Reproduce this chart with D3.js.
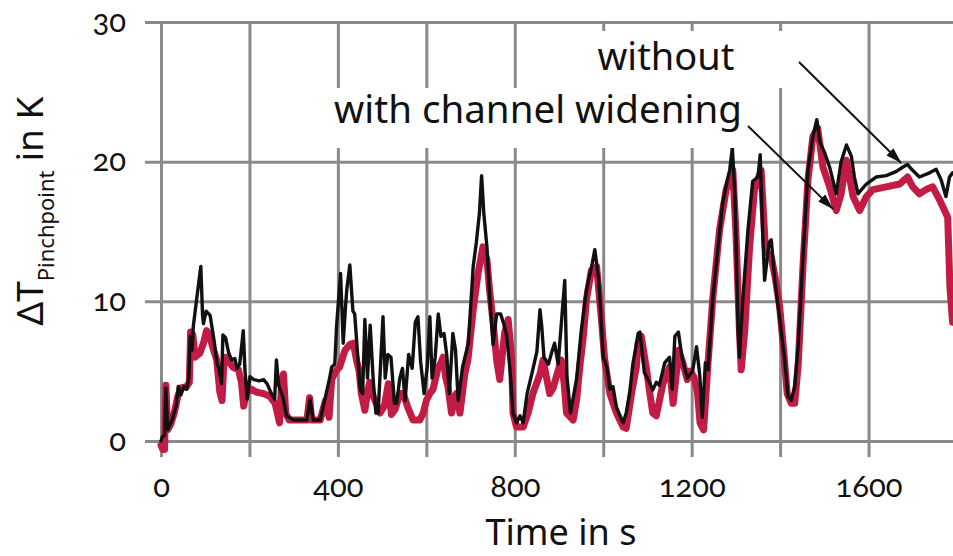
<!DOCTYPE html>
<html><head><meta charset="utf-8">
<script src="https://cdn.jsdelivr.net/npm/d3@7"></script>
<style>
body{margin:0;background:#fff}
text{font-family:"Noto Sans","Open Sans",sans-serif;fill:#111}
</style>
</head><body>
<svg id="chart" width="953" height="556"></svg>
<script>
// ---- data ----
const xTickLabels = [0, 400, 800, 1200, 1600];
const xGridValues = [0, 200, 400, 600, 800, 1000, 1200, 1400, 1600, 1800];
const yTickLabels = [0, 10, 20, 30];
const seriesNames = ["with channel widening", "without"];

const withWidening = [[0,-0.3],[4,-0.6],[8,-0.6],[11,4.0],[15,0.8],[22,1.2],[30,2.0],[38,3.2],[45,3.8],[58,3.9],[64,4.2],[67,7.8],[72,7.6],[77,6.0],[88,6.3],[96,7.0],[103,7.9],[110,7.6],[116,6.8],[126,5.8],[133,3.5],[138,2.9],[142,5.5],[146,6.0],[155,5.6],[162,5.3],[175,5.1],[182,4.2],[187,2.5],[194,3.6],[205,3.7],[216,3.5],[231,3.4],[246,3.2],[258,2.7],[268,1.3],[273,4.3],[277,4.8],[282,2.0],[290,1.5],[310,1.5],[330,1.5],[336,3.1],[341,1.5],[360,1.5],[372,2.9],[380,1.7],[386,4.4],[395,5.0],[404,5.3],[416,6.5],[427,6.9],[435,7.0],[442,5.8],[448,5.0],[453,3.4],[461,2.2],[467,3.5],[472,4.2],[480,3.2],[488,2.6],[495,2.0],[505,2.5],[514,4.1],[521,1.9],[530,2.3],[540,3.4],[548,3.4],[558,2.4],[570,1.5],[585,1.5],[593,2.0],[600,2.9],[608,3.4],[615,3.7],[627,5.3],[633,5.6],[638,6.0],[644,4.5],[649,3.9],[657,2.0],[663,3.0],[668,3.4],[676,2.0],[687,4.8],[694,5.8],[706,9.4],[717,12.0],[728,13.9],[737,13.0],[743,10.8],[751,8.5],[759,5.8],[766,4.4],[777,7.7],[785,8.7],[790,7.0],[793,5.8],[796,2.0],[804,1.0],[819,1.0],[830,2.0],[841,3.4],[857,4.8],[864,5.8],[872,4.5],[879,3.4],[887,3.8],[894,4.6],[905,5.8],[912,4.0],[917,2.0],[932,1.5],[940,3.0],[947,5.3],[955,7.5],[962,10.1],[973,12.2],[985,12.5],[996,8.7],[1003,5.9],[1015,3.4],[1030,2.0],[1045,1.0],[1052,0.9],[1064,3.4],[1075,5.3],[1079,7.0],[1086,7.5],[1098,5.1],[1105,3.5],[1112,2.0],[1120,1.8],[1135,4.1],[1150,5.3],[1158,2.7],[1166,5.0],[1171,6.5],[1180,5.6],[1190,4.4],[1197,5.0],[1205,4.6],[1213,3.5],[1219,1.3],[1227,0.8],[1237,5.6],[1248,10.3],[1263,15.1],[1278,18.0],[1293,19.4],[1300,15.0],[1308,7.9],[1312,5.1],[1320,7.9],[1331,13.9],[1342,18.0],[1357,19.4],[1367,13.6],[1380,13.2],[1390,11.5],[1399,9.6],[1408,6.5],[1416,3.4],[1425,2.7],[1433,2.7],[1441,5.5],[1452,12.7],[1463,18.7],[1474,21.8],[1485,22.4],[1497,19.6],[1512,18.2],[1527,16.5],[1538,17.7],[1550,20.1],[1565,17.5],[1580,16.5],[1595,17.5],[1610,18.0],[1640,18.2],[1670,18.4],[1688,18.9],[1700,18.2],[1715,17.7],[1730,18.0],[1745,18.2],[1760,17.3],[1772,16.5],[1779,16.0],[1784,11.0],[1790,8.5]];

const withoutWidening = [[0,0.0],[3,0.3],[8,0.4],[11,3.8],[15,0.8],[25,1.5],[35,2.6],[39,3.9],[45,3.3],[52,3.9],[58,3.7],[63,4.5],[66,7.5],[70,6.5],[73,8.2],[80,10.0],[90,12.5],[94,9.0],[96,8.4],[102,9.3],[111,9.0],[120,7.2],[127,5.5],[131,5.2],[137,4.1],[140,7.6],[146,7.4],[153,6.3],[160,5.8],[167,5.9],[172,5.2],[178,5.5],[186,7.9],[190,5.0],[195,3.0],[201,4.6],[210,4.4],[222,4.3],[232,4.4],[240,4.1],[248,3.5],[257,3.0],[261,5.8],[266,4.0],[276,3.1],[284,1.8],[300,1.5],[330,1.5],[337,3.0],[344,1.5],[360,1.5],[370,2.9],[380,4.3],[386,5.3],[393,5.5],[397,8.2],[406,12.0],[412,7.0],[417,9.5],[420,10.8],[427,12.6],[434,9.3],[438,9.1],[445,6.0],[451,3.6],[456,3.4],[461,8.7],[467,4.5],[473,8.3],[480,4.3],[486,2.0],[491,2.0],[502,8.9],[507,4.5],[513,6.2],[520,6.0],[528,2.7],[533,2.7],[540,4.5],[546,5.2],[552,2.9],[560,6.2],[568,5.2],[575,8.5],[581,8.9],[587,5.7],[595,3.4],[602,5.3],[608,8.9],[613,4.5],[620,6.0],[627,9.1],[633,7.5],[640,7.7],[646,6.2],[652,3.4],[660,7.7],[666,6.5],[672,2.9],[682,5.3],[695,7.0],[706,12.5],[713,14.2],[720,16.3],[725,19.0],[730,16.3],[737,13.9],[743,10.5],[751,6.9],[759,9.1],[768,9.1],[775,8.4],[782,7.5],[790,4.8],[796,2.0],[804,1.3],[812,1.8],[819,1.3],[828,3.4],[840,5.0],[850,6.4],[857,9.4],[861,8.2],[866,6.0],[876,5.5],[884,6.4],[890,7.0],[898,5.5],[913,11.5],[918,4.6],[926,2.0],[940,4.5],[950,7.8],[962,10.8],[975,12.7],[981,13.7],[990,11.5],[1000,6.0],[1008,5.3],[1015,3.7],[1022,3.9],[1030,2.4],[1045,1.3],[1052,2.0],[1060,3.5],[1067,5.5],[1079,7.7],[1083,7.8],[1093,4.9],[1100,4.5],[1112,3.65],[1120,4.2],[1127,4.0],[1139,5.6],[1150,6.0],[1156,3.7],[1162,7.5],[1170,7.8],[1178,6.0],[1190,4.5],[1202,5.0],[1211,6.75],[1218,4.8],[1224,1.7],[1231,5.6],[1237,5.1],[1248,10.3],[1259,13.7],[1270,17.0],[1280,18.6],[1286,19.4],[1292,21.0],[1298,17.5],[1305,8.0],[1308,6.0],[1316,10.3],[1327,15.0],[1338,18.6],[1350,18.9],[1355,20.5],[1361,14.5],[1365,11.5],[1375,14.2],[1380,14.4],[1388,11.5],[1399,8.8],[1410,5.9],[1418,3.2],[1425,2.9],[1433,3.9],[1441,6.9],[1452,13.3],[1463,19.4],[1474,21.8],[1483,23.0],[1490,21.4],[1500,20.7],[1512,19.6],[1527,17.7],[1538,20.0],[1550,21.2],[1561,20.4],[1568,18.9],[1576,17.7],[1595,18.4],[1617,18.9],[1640,19.0],[1663,19.3],[1677,19.6],[1688,19.8],[1699,19.4],[1715,18.9],[1738,19.2],[1753,19.45],[1764,18.7],[1775,17.5],[1783,18.9],[1790,19.2]];

// annotation targets in data units (time, value)
const annotTargets = [[1520, 16.6], [1674, 19.9]];

// ---- drawing ----
const svg = d3.select("#chart");
const x = d3.scaleLinear().domain([0, 1800]).range([161, 957]);
const y = d3.scaleLinear().domain([0, 30]).range([441, 22]);
const gridColor = "#8a8a8a";
const red = "#c21c44";
const tickFont = 'Lato,"Noto Sans",sans-serif';

// horizontal grid + y labels
const gy = svg.append("g").attr("transform", "translate(145,0)")
  .call(d3.axisLeft(y).tickValues(yTickLabels).tickSize(-(957 - 145)).tickPadding(19).tickFormat(d3.format("d")));
gy.select(".domain").remove();
gy.selectAll(".tick line").attr("stroke", gridColor).attr("stroke-width", 3);
gy.selectAll(".tick text").attr("font-size", 31).attr("dy", "0.3em").attr("fill", "#111")
  .style("font-family", tickFont).style("font-variant-numeric", "oldstyle-nums");

// vertical grid + x labels
const gx = svg.append("g").attr("transform", "translate(0,457)")
  .call(d3.axisBottom(x).tickValues(xGridValues).tickSize(-(457 - 22))
    .tickFormat(d => xTickLabels.includes(d) ? d3.format("d")(d) : ""));
gx.select(".domain").remove();
gx.selectAll(".tick line").attr("stroke", gridColor).attr("stroke-width", 3);
gx.selectAll(".tick text").attr("font-size", 31).attr("dy", null).attr("y", 40).attr("fill", "#111")
  .style("font-family", tickFont).style("font-variant-numeric", "oldstyle-nums");

// lines
const line = d3.line().x(d => x(d[0])).y(d => y(d[1])).curve(d3.curveLinear);
svg.append("path").datum(withWidening).attr("d", line)
  .attr("fill", "none").attr("stroke", red).attr("stroke-width", 7)
  .attr("stroke-linejoin", "round").attr("stroke-linecap", "round");
svg.append("path").datum(withoutWidening).attr("d", line)
  .attr("fill", "none").attr("stroke", "#111").attr("stroke-width", 3.4)
  .attr("stroke-linejoin", "round").attr("stroke-linecap", "round");

// helper to fit a text to a target width
function fit(sel, target) {
  const w = sel.node().getComputedTextLength();
  const fs = parseFloat(sel.attr("font-size"));
  sel.attr("font-size", fs * target / w);
}

// annotation boxes
svg.append("rect").attr("x", 566).attr("y", 31).attr("width", 232).attr("height", 57).attr("fill", "#fff");
svg.append("rect").attr("x", 332).attr("y", 88).attr("width", 416).attr("height", 60).attr("fill", "#fff");

const t1 = svg.append("text").attr("x", 666).attr("y", 70).attr("text-anchor", "middle")
  .attr("font-size", 38).text(seriesNames[1]);
fit(t1, 137);
const t2 = svg.append("text").attr("x", 538).attr("y", 123).attr("text-anchor", "middle")
  .attr("font-size", 38).text(seriesNames[0]);
fit(t2, 408);

// arrows
const defs = svg.append("defs");
defs.append("marker").attr("id", "ah").attr("viewBox", "0 0 16 10").attr("refX", 16).attr("refY", 5)
  .attr("markerWidth", 16).attr("markerHeight", 10).attr("markerUnits", "userSpaceOnUse")
  .attr("orient", "auto")
  .append("path").attr("d", "M0,0 L16,5 L0,10 Z").attr("fill", "#111");
const arrowStarts = [[748, 126], [799, 62]];
arrowStarts.forEach((s, i) => {
  svg.append("line").attr("x1", s[0]).attr("y1", s[1])
    .attr("x2", x(annotTargets[i][0])).attr("y2", y(annotTargets[i][1]))
    .attr("stroke", "#111").attr("stroke-width", 2).attr("marker-end", "url(#ah)");
});

// axis titles
const xt = svg.append("text").attr("x", 561).attr("y", 545).attr("text-anchor", "middle")
  .attr("font-size", 36).text("Time in s");
fit(xt, 151);

const yt = svg.append("text").attr("transform", "translate(43,211) rotate(-90)")
  .attr("text-anchor", "middle").attr("font-size", 37);
yt.append("tspan").text("ΔT");
yt.append("tspan").attr("font-size", 22).attr("dy", 11).text("Pinchpoint");
yt.append("tspan").attr("dy", -11).attr("dx", 9).text("in K");
</script>
</body></html>
